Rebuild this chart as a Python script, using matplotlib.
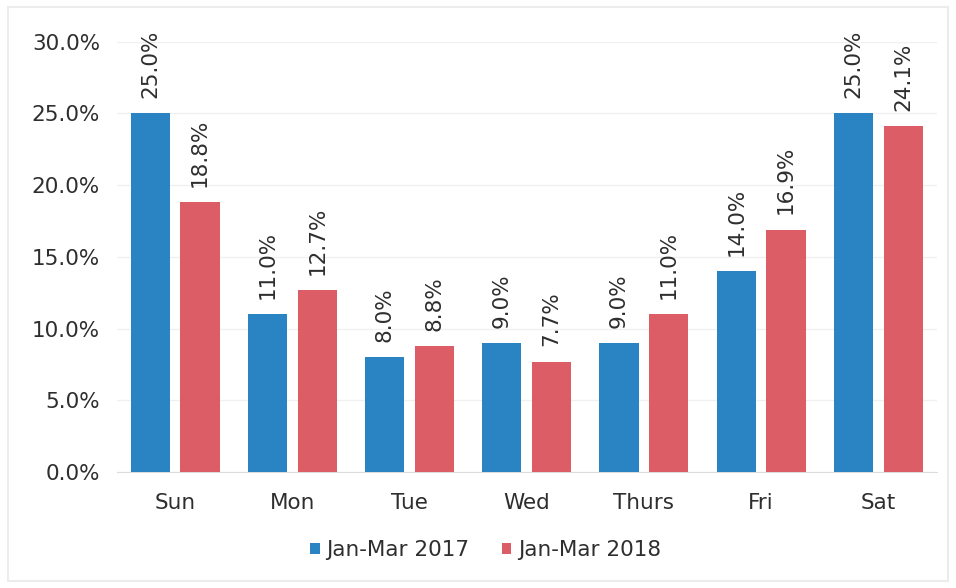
import matplotlib.pyplot as plt
import numpy as np
from matplotlib.patches import Rectangle

plt.rcParams['font.family'] = 'DejaVu Sans'

# Данные
days = ['Sun', 'Mon', 'Tue', 'Wed', 'Thurs', 'Fri', 'Sat']
share_2017 = [25.0, 11.0, 8.0, 9.0, 9.0, 14.0, 25.0]
share_2018 = [18.8, 12.7, 8.8, 7.7, 11.0, 16.9, 24.1]
series_names = ['Jan-Mar 2017', 'Jan-Mar 2018']

blue = '#2a84c4'
red = '#dc5d65'
text_color = '#2e2e2e'
fs = 15.5

fig = plt.figure(figsize=(9.56, 5.88), dpi=100)
ax = fig.add_axes([0.122, 0.197, 0.858, 0.732])

x = np.arange(len(days))
w = 0.335
gap = 0.045
bars1 = ax.bar(x - w / 2 - gap, share_2017, width=w, color=blue, label=series_names[0], zorder=3)
bars2 = ax.bar(x + w / 2 + gap, share_2018, width=w, color=red, label=series_names[1], zorder=3)

# Подписи над столбцами
for bars, vals in [(bars1, share_2017), (bars2, share_2018)]:
    for bar, val in zip(bars, vals):
        ax.annotate(f'{val:.1f}%', (bar.get_x() + bar.get_width() / 2, bar.get_height()),
                    xytext=(0, 11), textcoords='offset points',
                    rotation=90, ha='center', va='bottom',
                    fontsize=fs, color=text_color)

ax.set_xlim(-0.5, 6.5)
ax.set_ylim(0, 30)
ax.set_yticks(np.arange(0, 31, 5))
ax.set_yticklabels([f'{v:.1f}%' for v in np.arange(0, 31, 5)])
ax.set_xticks(x)
ax.set_xticklabels(days)
ax.tick_params(axis='both', length=0, labelsize=fs, labelcolor=text_color)
ax.tick_params(axis='y', pad=12)
ax.tick_params(axis='x', pad=15)

for s in ['top', 'right', 'left']:
    ax.spines[s].set_visible(False)
ax.spines['bottom'].set_color('#dcdcdc')
ax.grid(axis='y', color='#f0f0f0', linewidth=1, zorder=0)

leg = fig.legend(loc='center', bbox_to_anchor=(0.508, 0.064), ncol=2, frameon=False,
                 fontsize=fs, handlelength=0.45, handleheight=0.45,
                 handletextpad=0.3, columnspacing=1.5)
for t in leg.get_texts():
    t.set_color(text_color)

# Рамка вокруг рисунка
fig.patches.append(Rectangle((0.008, 0.012), 0.984, 0.976, transform=fig.transFigure,
                             fill=False, edgecolor='#ececec', linewidth=1.5))

fig.savefig('out.png', dpi=100)
